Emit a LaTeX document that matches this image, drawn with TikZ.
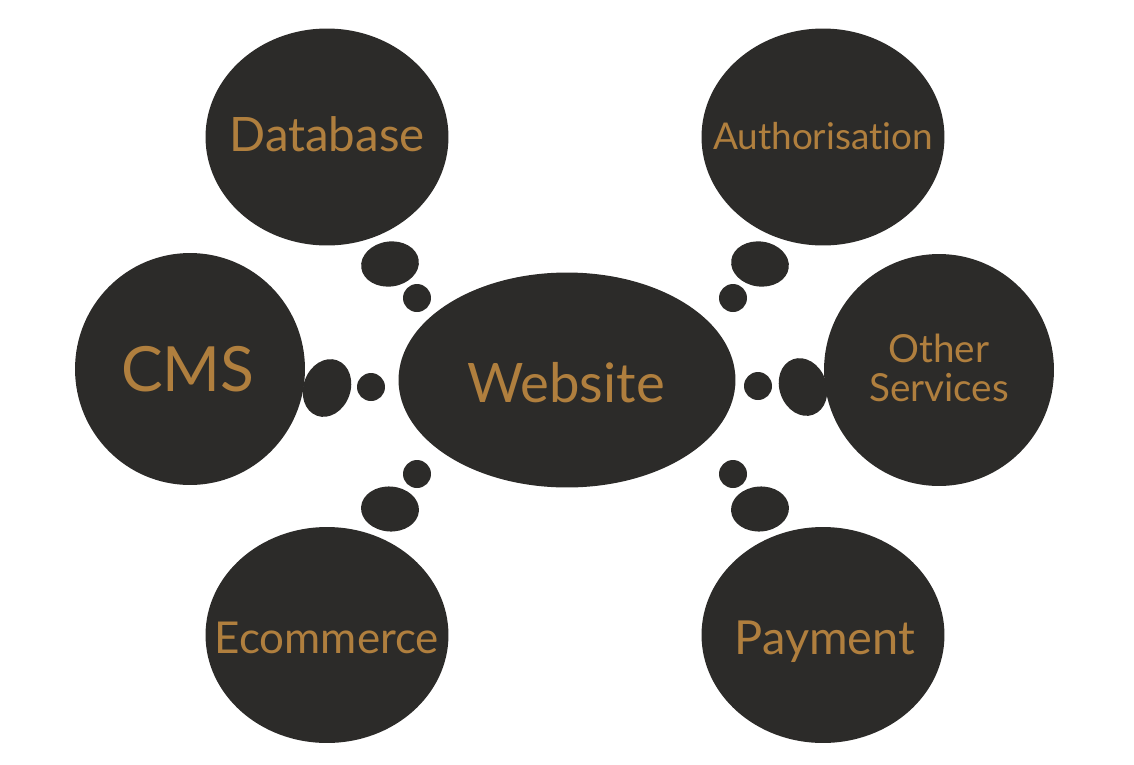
\documentclass[tikz,border=0pt]{standalone}
\usepackage{fontspec}
\setmainfont{Lato}[Ligatures=NoCommon]
\usetikzlibrary{shapes.geometric}
\definecolor{blobgray}{HTML}{2C2B29}
\definecolor{blobgold}{HTML}{B07F3E}
\begin{document}
\begin{tikzpicture}[x=0.02cm, y=-0.02cm,
		blob/.style={ ellipse, fill=blobgray, inner sep=0pt },
		big/.style={ blob, minimum width=4.86cm, minimum height=4.34cm },
		drop/.style={ blob, minimum width=1.16cm, minimum height=0.9cm },
		dot/.style={ circle, fill=blobgray, inner sep=0pt, minimum size=0.56cm },
		txt/.style={ text=blobgold, inner sep=0pt, anchor=base } ]
			\useasboundingbox (0,0) rectangle (1134,765);

			% the centre
			\node[blob, minimum width=6.74cm, minimum height=4.3cm] (site) at (567,380) {};
			\node[txt, font=\fontsize{31}{31}\selectfont] (sitetxt) at (566,402) {Website};

			% the six around it
			\node[big] (db) at (327,137) {};
			\node[big] (auth) at (823,137) {};
			\node[big, minimum width=4.6cm, minimum height=4.64cm] (cms) at (190,369) {};
			\node[big, minimum width=4.6cm, minimum height=4.64cm] (other) at (939,370) {};
			\node[big, minimum height=4.32cm] (ecom) at (327,635) {};
			\node[big, minimum height=4.32cm] (pay) at (823,635) {};

			\node[txt, font=\fontsize{27}{27}\selectfont] (dbtxt) at (327,151) {Database};
			\node[txt, font=\fontsize{21}{21}\selectfont] (authtxt) at (823,149) {Authorisation};
			\node[txt, font=\fontsize{35.5}{35.5}\selectfont] (cmstxt) at (188,391) {CMS};
			\node[txt, font=\fontsize{22}{22}\selectfont, align=center, anchor=center, text depth=0pt] (othertxt) at (939,368) {Other\\Services};
			\node[txt, font=\fontsize{25}{25}\selectfont] (ecomtxt) at (327,653) {Ecommerce};
			\node[txt, font=\fontsize{26.7}{26.7}\selectfont] (paytxt) at (825,654) {Payment};

			% bubbles, left
			\node[drop, rotate=8] (dropdb) at (390,264) {};
			\node[dot] (dotdb) at (417,298) {};
			\node[drop, rotate=70, minimum width=1.18cm, minimum height=0.94cm] (dropcms) at (327,388) {};
			\node[dot] (dotcms) at (371,387) {};
			\node[dot] (dotecom) at (417,474) {};
			\node[drop, rotate=-4] (dropecom) at (390,509) {};

			% bubbles, right
			\node[drop, rotate=-8] (dropauth) at (760,264) {};
			\node[dot] (dotauth) at (733,298) {};
			\node[drop, rotate=110, minimum width=1.18cm, minimum height=0.94cm] (dropother) at (803,387) {};
			\node[dot] (dotother) at (758,386) {};
			\node[dot] (dotpay) at (733,474) {};
			\node[drop, rotate=4] (droppay) at (760,509) {};
		\end{tikzpicture}
\end{document}
